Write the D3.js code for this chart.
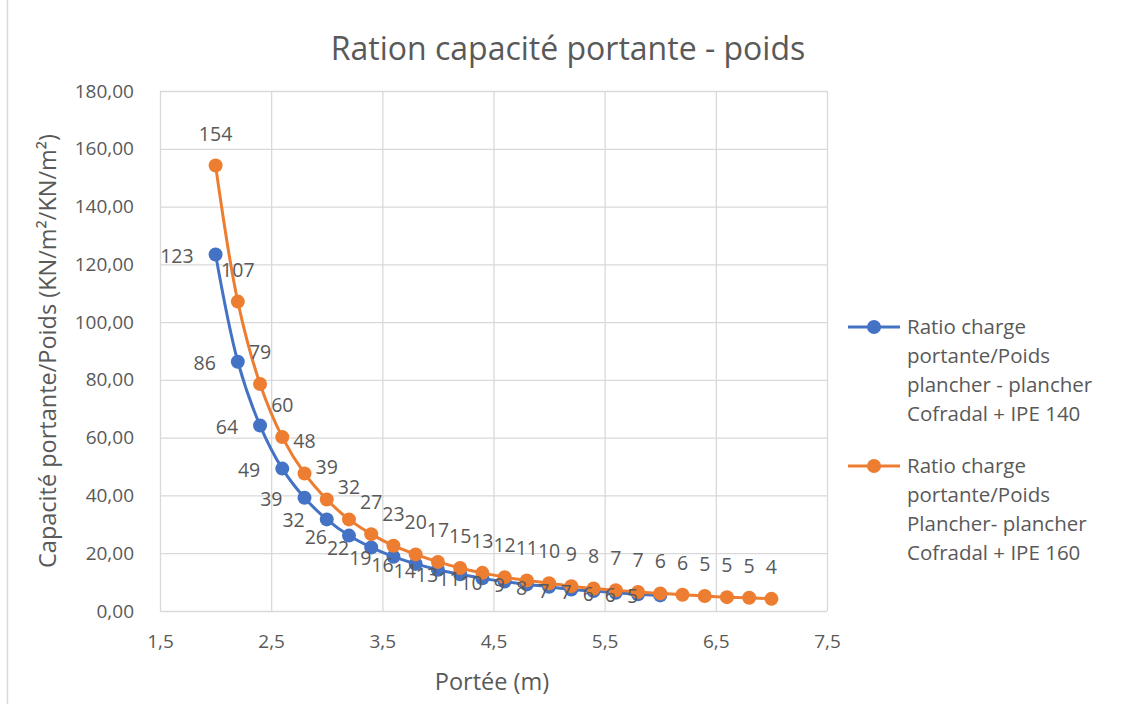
<!DOCTYPE html>
<html>
<head>
<meta charset="utf-8">
<script src="https://cdn.jsdelivr.net/npm/d3@7"></script>
<style>
  html, body { margin: 0; padding: 0; background: #fff; }
  svg { display: block; }
  text { font-family: "Open Sans", Lato, sans-serif; fill: #595959; }
</style>
</head>
<body>
<svg id="chart" width="1125" height="704"></svg>
<script>
// Span (m) for each series
const spanIPE140 = [2.0, 2.2, 2.4, 2.6, 2.8, 3.0, 3.2, 3.4, 3.6, 3.8, 4.0, 4.2, 4.4, 4.6, 4.8, 5.0, 5.2, 5.4, 5.6, 5.8, 6.0];
const spanIPE160 = [2.0, 2.2, 2.4, 2.6, 2.8, 3.0, 3.2, 3.4, 3.6, 3.8, 4.0, 4.2, 4.4, 4.6, 4.8, 5.0, 5.2, 5.4, 5.6, 5.8, 6.0, 6.2, 6.4, 6.6, 6.8, 7.0];

// Load capacity / self weight ratio
const ratioIPE140 = [123.4, 86.3, 64.2, 49.3, 39.2, 31.7, 26.1, 22.0, 18.8, 16.3, 14.3, 12.7, 11.3, 10.2, 9.2, 8.4, 7.4, 6.9, 6.3, 5.8, 5.4];
const ratioIPE160 = [154.2, 107.1, 78.6, 60.2, 47.6, 38.6, 31.7, 26.6, 22.6, 19.6, 17.0, 14.9, 13.2, 11.7, 10.6, 9.6, 8.6, 7.8, 7.2, 6.6, 6.1, 5.6, 5.2, 4.8, 4.6, 4.2];

const xTicks = [1.5, 2.5, 3.5, 4.5, 5.5, 6.5, 7.5];
const yTicks = [0, 20, 40, 60, 80, 100, 120, 140, 160, 180];

const seriesNames = [
  ["Ratio charge", "portante/Poids", "plancher - plancher", "Cofradal + IPE 140"],
  ["Ratio charge", "portante/Poids", "Plancher- plancher", "Cofradal + IPE 160"]
];
const titleText = "Ration capacité portante - poids";
const xTitle = "Portée (m)";
const yTitle = "Capacité portante/Poids (KN/m²/KN/m²)";

const colors = ["#4472C4", "#ED7D31"];

const svg = d3.select("#chart");
const plot = { left: 160, right: 827, top: 91, bottom: 611 };

const x = d3.scaleLinear().domain([1.5, 7.5]).range([plot.left, plot.right]);
const y = d3.scaleLinear().domain([0, 180]).range([plot.bottom, plot.top]);

const comma = v => v.toFixed(2).replace(".", ",");
const commaX = v => String(v).replace(".", ",");

// chart area border
svg.append("rect")
  .attr("x", 7.5).attr("y", -5).attr("width", 1200).attr("height", 720)
  .attr("fill", "none").attr("stroke", "#d9d9d9").attr("stroke-width", 1.5);

// title
svg.append("text")
  .attr("x", 568).attr("y", 60)
  .attr("text-anchor", "middle")
  .style("font-size", "32px")
  .text(titleText);

// gridlines
const grid = svg.append("g");
grid.selectAll("line.h").data(yTicks).join("line")
  .attr("x1", plot.left).attr("x2", plot.right)
  .attr("y1", d => y(d) + 0.5).attr("y2", d => y(d) + 0.5)
  .attr("stroke", "#d9d9d9").attr("stroke-width", 1.3);
grid.selectAll("line.v").data(xTicks).join("line")
  .attr("y1", plot.top).attr("y2", plot.bottom)
  .attr("x1", d => x(d) + 0.5).attr("x2", d => x(d) + 0.5)
  .attr("stroke", "#d9d9d9").attr("stroke-width", 1.3);

// axes (labels only)
const yAxis = d3.axisLeft(y).tickValues(yTicks).tickFormat(comma).tickSize(0).tickPadding(26);
svg.append("g").attr("transform", `translate(${plot.left},0)`).call(yAxis)
  .call(g => g.select(".domain").remove())
  .selectAll("text").style("font-size", "19px").attr("fill", "#595959");

const xAxis = d3.axisBottom(x).tickValues(xTicks).tickFormat(commaX).tickSize(0).tickPadding(24);
svg.append("g").attr("transform", `translate(0,${plot.bottom})`).call(xAxis)
  .call(g => g.select(".domain").remove())
  .selectAll("text").style("font-size", "19px").attr("fill", "#595959");

// axis titles
svg.append("text")
  .attr("x", 492).attr("y", 690)
  .attr("text-anchor", "middle")
  .style("font-size", "23.5px")
  .text(xTitle);
svg.append("text")
  .attr("transform", "translate(56,351) rotate(-90)")
  .attr("text-anchor", "middle")
  .style("font-size", "23.5px")
  .text(yTitle);

// series
const series = [
  { xs: spanIPE140, ys: ratioIPE140, color: colors[0], labelPos: "left" },
  { xs: spanIPE160, ys: ratioIPE160, color: colors[1], labelPos: "above" }
];

const line = d3.line().x(d => x(d[0])).y(d => y(d[1])).curve(d3.curveCatmullRom.alpha(0.5));

series.forEach(s => {
  const pts = s.xs.map((v, i) => [v, s.ys[i]]);
  const g = svg.append("g");
  g.append("path").datum(pts)
    .attr("d", line).attr("fill", "none")
    .attr("stroke", s.color).attr("stroke-width", 3);
  g.selectAll("circle").data(pts).join("circle")
    .attr("cx", d => x(d[0])).attr("cy", d => y(d[1]))
    .attr("r", 7).attr("fill", s.color);
  s.pts = pts;
});

// data labels (drawn after all lines so they sit on top)
series.forEach(s => {
  svg.append("g").selectAll("text").data(s.pts).join("text")
    .attr("x", d => s.labelPos === "left" ? x(d[0]) - 22 : x(d[0]))
    .attr("y", d => s.labelPos === "left" ? y(d[1]) + 8 : y(d[1]) - 25)
    .attr("text-anchor", s.labelPos === "left" ? "end" : "middle")
    .style("font-size", "19.5px")
    .attr("fill", "#404040")
    .text(d => d3.format(".0f")(d[1]));
});

// legend
const legend = svg.append("g");
[[0, 327], [1, 466]].forEach(([i, ly]) => {
  const lg = legend.append("g");
  lg.append("line").attr("x1", 848).attr("x2", 900).attr("y1", ly).attr("y2", ly)
    .attr("stroke", colors[i]).attr("stroke-width", 3);
  lg.append("circle").attr("cx", 874).attr("cy", ly).attr("r", 7).attr("fill", colors[i]);
  lg.selectAll("text").data(seriesNames[i]).join("text")
    .attr("x", 907).attr("y", (d, k) => ly + 7 + k * 29)
    .style("font-size", "20.5px")
    .text(d => d);
});
</script>
</body>
</html>
